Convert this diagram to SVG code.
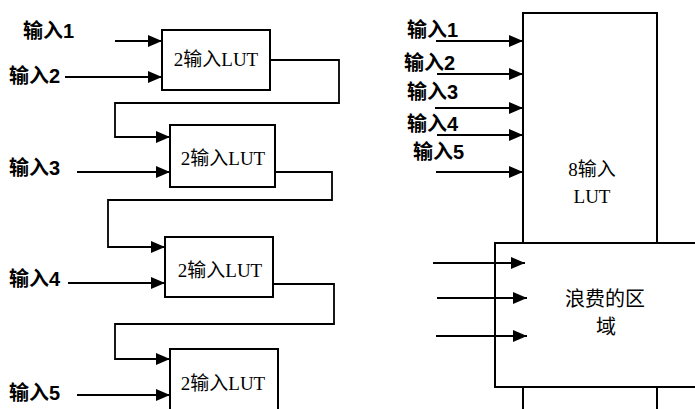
<svg xmlns="http://www.w3.org/2000/svg" width="695" height="409" viewBox="0 0 695 409">
<style>
.bx{fill:#fff;stroke:#000;stroke-width:2}
.ln{fill:none;stroke:#000;stroke-width:1.8}
.lbl{font-family:"Liberation Sans","Noto Sans CJK SC",sans-serif;font-size:20px;font-weight:bold;fill:#000}
.lut{font-family:"Liberation Serif","Noto Sans CJK SC",serif;font-size:19px;fill:#000;text-anchor:middle}
.cn{font-family:"Noto Sans CJK SC",sans-serif;font-size:20px;fill:#000;text-anchor:middle}
</style>
<defs>
<marker id="ah" markerUnits="userSpaceOnUse" markerWidth="14" markerHeight="12" refX="14" refY="6" orient="auto">
<path d="M0,0 L14,6 L0,12 z" fill="#000"/>
</marker>
</defs>
<rect width="695" height="409" fill="#fff"/>

<!-- left chain -->
<g id="lut1"><rect class="bx" x="162" y="30" width="108" height="60"/><text class="lut" x="216" y="66">2输入LUT</text></g>
<g id="lut2"><rect class="bx" x="170" y="125" width="105" height="62"/><text class="lut" x="223" y="165">2输入LUT</text></g>
<g id="lut3"><rect class="bx" x="165" y="237" width="108" height="60"/><text class="lut" x="220" y="277">2输入LUT</text></g>
<g id="lut4"><rect class="bx" x="170" y="349" width="108" height="70"/><text class="lut" x="223" y="390">2输入LUT</text></g>

<g id="labels-left">
<text class="lbl" x="23" y="38">输入1</text>
<text class="lbl" x="9" y="83">输入2</text>
<text class="lbl" x="9" y="175">输入3</text>
<text class="lbl" x="9" y="286">输入4</text>
<text class="lbl" x="9" y="400">输入5</text>
</g>

<!-- right side -->
<g id="lut8"><path class="bx" d="M523,409 V13 H657 V409"/>
<text class="lut" x="592" y="176">8输入</text><text class="lut" x="592" y="203">LUT</text></g>
<g id="waste"><rect class="bx" x="495" y="243" width="220" height="144"/>
<text class="cn" x="605" y="306">浪费的区</text><text class="cn" x="606" y="334">域</text></g>

<g id="labels-right">
<text class="lbl" x="407" y="37">输入1</text>
<text class="lbl" x="404" y="70">输入2</text>
<text class="lbl" x="407" y="99">输入3</text>
<text class="lbl" x="407" y="131">输入4</text>
<text class="lbl" x="413" y="159">输入5</text>
</g>

<g id="connectors">
<path class="ln" d="M115,41 H162" marker-end="url(#ah)"/>
<path class="ln" d="M65,77 H162" marker-end="url(#ah)"/>
<path class="ln" d="M270,60 H339 V103 H115 V137 H170" marker-end="url(#ah)"/>
<path class="ln" d="M77,172 H170" marker-end="url(#ah)"/>
<path class="ln" d="M275,172 H332 V200 H108 V247 H165" marker-end="url(#ah)"/>
<path class="ln" d="M68,283 H165" marker-end="url(#ah)"/>
<path class="ln" d="M273,284 H334 V324 H115 V359 H170" marker-end="url(#ah)"/>
<path class="ln" d="M77,395 H170" marker-end="url(#ah)"/>

<path class="ln" d="M436,41 H523" marker-end="url(#ah)"/>
<path class="ln" d="M437,74 H523" marker-end="url(#ah)"/>
<path class="ln" d="M435,108 H523" marker-end="url(#ah)"/>
<path class="ln" d="M437,135 H523" marker-end="url(#ah)"/>
<path class="ln" d="M436,172 H523" marker-end="url(#ah)"/>

<path class="ln" d="M433,263 H525" marker-end="url(#ah)"/>
<path class="ln" d="M437,298 H527" marker-end="url(#ah)"/>
<path class="ln" d="M436,336 H527" marker-end="url(#ah)"/>
</g>
</svg>
